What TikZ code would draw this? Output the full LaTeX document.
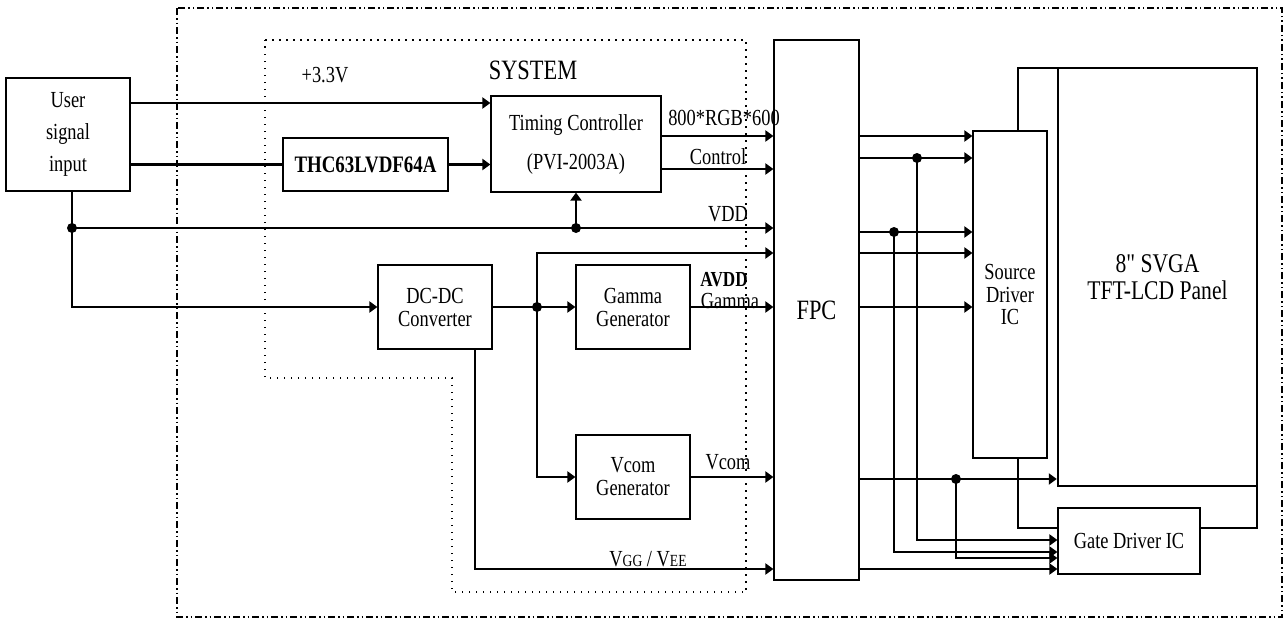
\documentclass[tikz,border=0pt]{standalone}
\usepackage{fontspec}
\setmainfont{Liberation Serif}[FakeStretch=0.8]
\newfontfamily\plainserif{Liberation Serif}[FakeStretch=0.8]
\usetikzlibrary{arrows.meta,calc}
\newcommand\fsz[2]{\fontsize{#1}{#2}\selectfont}
\begin{document}
\begin{tikzpicture}[x=1pt,y=-1pt,
  box/.style={draw, line width=1.2pt, inner sep=0pt, align=center, font=\fsz{23}{23}},
  conn/.style={line width=2.6pt},
  arr/.style={conn, -{Triangle[length=8pt,width=11pt]}},
  jdot/.style={circle, fill, inner sep=0pt, minimum size=10pt},
  lbl/.style={inner sep=0pt, font=\fsz{23}{23}}]
\useasboundingbox (0,0) rectangle (1288,621);
% frames
\draw[line width=2pt, dash pattern=on 7pt off 3pt on 1.5pt off 3pt on 1.5pt off 3pt] (177,8) rectangle (1282,617);
\draw[line width=1.4pt, dash pattern=on 1.5pt off 5.5pt] (265,40) -- (746,40) -- (746,592) -- (452,592) -- (452,378) -- (265,378) -- cycle;
% boxes
\node[box, minimum width=124pt, minimum height=113pt, font=\fsz{23}{32}] (user) at (68,134.5) {User\\signal\\input};
\node[box, minimum width=165pt, minimum height=53pt, font=\fsz{23.6}{24}\bfseries] (thc) at (365.5,164.5) {THC63LVDF64A};
\node[box, minimum width=170pt, minimum height=96pt, font=\fsz{23}{39}] (tc) at (576,144) {Timing Controller\\(PVI-2003A)};
\node[box, minimum width=114pt, minimum height=84pt] (dcdc) at (435,307) {DC-DC\\Converter};
\node[box, minimum width=114pt, minimum height=84pt] (gamma) at (633,307) {Gamma\\Generator};
\node[box, minimum width=114pt, minimum height=84pt] (vcom) at (633,477) {Vcom\\Generator};
\node[box, minimum width=85pt, minimum height=540pt, font=\fsz{28}{28}] (fpc) at (816.5,310) {FPC};
\node[box, minimum width=74pt, minimum height=327pt, font=\fsz{23}{22.5}] (src) at (1010,294.5) {Source\\Driver\\IC};
\node[box, line width=2.4pt, minimum width=199pt, minimum height=418pt, font=\plainserif\fsz{27}{27}] (panel) at (1157.5,277) {8" SVGA\\TFT-LCD Panel};
\node[box, minimum width=142pt, minimum height=66pt] (gate) at (1129,541) {Gate Driver IC};
% labels
\node[lbl] (l33) at (325,75) {+3.3V};
\node[lbl, font=\fsz{28}{28}] (lsys) at (533,70) {SYSTEM};
\node[lbl] (lrgb) at (724,118) {800*RGB*600};
\node[lbl] (lctl) at (718,157) {Control};
\node[lbl] (lvdd) at (728,214) {VDD};
\node[lbl, font=\fsz{21.4}{22}\bfseries] (lavdd) at (724,280) {AVDD};
\node[lbl] (lgam) at (730,301) {Gamma};
\node[lbl] (lvcom) at (728,462) {Vcom};
\node[lbl] (lvgg) at (648,559) {V{\fsz{17}{17}GG} / V{\fsz{17}{17}EE}};
% coordinates
\coordinate (y33) at (0,103);
\coordinate (yrgb) at (0,136);
\coordinate (yctl) at (0,169);
\coordinate (jv) at (72,228);
\coordinate (jt) at (576,228);
\coordinate (jd) at (537,307);
\coordinate (ja) at (537,253);
\coordinate (vg) at (475,569);
\coordinate (r1) at (0,136);
\coordinate (r2) at (0,158);
\coordinate (r3) at (0,232);
\coordinate (r4) at (0,253);
\coordinate (r5) at (0,307);
\coordinate (rv) at (0,479);
\coordinate (k1) at (917,158);
\coordinate (k2) at (894,232);
\coordinate (k3) at (956,479);
\coordinate (g1) at (0,540);
\coordinate (g2) at (0,552);
\coordinate (g3) at (0,558);
\coordinate (st) at (1018,68);
\coordinate (sb) at (1018,528);
\coordinate (ge) at (1257,528);
% left side connectors
\draw[arr] (user.east |- y33) -- (tc.west |- y33);
\draw[conn] (user.east |- thc.west) -- (thc.west);
\draw[arr] (thc.east) -- (tc.west |- thc.east);
\draw[arr] (tc.east |- yrgb) -- (fpc.west |- yrgb);
\draw[arr] (tc.east |- yctl) -- (fpc.west |- yctl);
\draw[conn] (user.south -| jv) -- (jv);
\draw[arr] (jv) -- (fpc.west |- jv);
\draw[arr] (jt) -- (tc.south);
\draw[arr] (jv) -- (jv |- dcdc.west) -- (dcdc.west);
\draw[conn] (dcdc.east) -- (jd);
\draw[arr] (jd) -- (gamma.west);
\draw[arr] (jd) -- (ja) -- (fpc.west |- ja);
\draw[arr] (jd) -- (jd |- vcom.west) -- (vcom.west);
\draw[arr] (gamma.east) -- (fpc.west |- gamma.east);
\draw[arr] (vcom.east) -- (fpc.west |- vcom.east);
\draw[arr] (dcdc.south -| vg) -- (vg) -- (fpc.west |- vg);
% right side connectors
\draw[arr] (fpc.east |- r1) -- (src.west |- r1);
\draw[arr] (fpc.east |- r2) -- (src.west |- r2);
\draw[arr] (fpc.east |- r3) -- (src.west |- r3);
\draw[arr] (fpc.east |- r4) -- (src.west |- r4);
\draw[arr] (fpc.east |- r5) -- (src.west |- r5);
\draw[arr] (fpc.east |- rv) -- (panel.west |- rv);
\draw[arr] (k1) -- (k1 |- g1) -- (gate.west |- g1);
\draw[arr] (k2) -- (k2 |- g2) -- (gate.west |- g2);
\draw[arr] (k3) -- (k3 |- g3) -- (gate.west |- g3);
\draw[arr] (fpc.east |- vg) -- (gate.west |- vg);
\draw[conn] (src.north -| st) -- (st) -- (st -| panel.west);
\draw[conn] (src.south -| sb) -- (sb) -- (gate.west |- sb);
\draw[conn] (gate.east |- sb) -- (ge) -- (panel.south -| ge);
% junction dots
\node[jdot] (d1) at (jv) {};
\node[jdot] (d2) at (jt) {};
\node[jdot] (d3) at (jd) {};
\node[jdot] (d4) at (k1) {};
\node[jdot] (d5) at (k2) {};
\node[jdot] (d6) at (k3) {};
\end{tikzpicture}
\end{document}
